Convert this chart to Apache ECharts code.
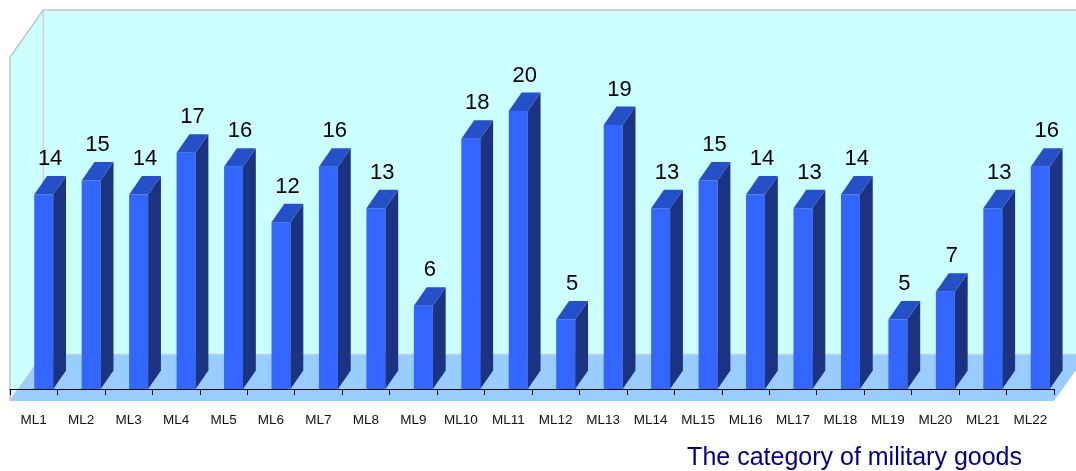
<!DOCTYPE html>
<html>
<head>
<meta charset="utf-8">
<script src="https://cdn.jsdelivr.net/npm/echarts@6/dist/echarts.min.js"></script>
<style>html,body{margin:0;padding:0;background:#fff}#c{width:1076px;height:471px}</style>
</head>
<body>
<div id="c"></div>
<script>
const categories = ['ML1','ML2','ML3','ML4','ML5','ML6','ML7','ML8','ML9','ML10','ML11','ML12','ML13','ML14','ML15','ML16','ML17','ML18','ML19','ML20','ML21','ML22'];
const values = [14,15,14,17,16,12,16,13,6,18,20,5,19,13,15,14,13,14,5,7,13,16];
const axisTitle = 'The category of military goods';

const FONT = '"Liberation Sans", Arial, sans-serif';

function renderWalls(params, api) {
  const cs = params.coordSys;
  const cw = api.size([1, 0])[0];
  const Dx = cw * 0.70, Dy = cw * 0.99;
  const x = cs.x, y = cs.y, w = cs.width, h = cs.height;
  const yb = y + h;
  const line = '#c4c4c4';
  return {
    type: 'group',
    children: [
      { type: 'polygon', shape: { points: [[x + Dx, y], [x + w + Dx + 40, y], [x + w + Dx + 40, yb - Dy], [x + Dx, yb - Dy]] }, style: { fill: '#CCFFFF' } },
      { type: 'polygon', shape: { points: [[x, y + Dy], [x + Dx, y], [x + Dx, yb - Dy], [x, yb]] }, style: { fill: '#CCFFFF' } },
      { type: 'polygon', shape: { points: [[x, yb], [x + w, yb], [x + w + Dx, yb - Dy], [x + Dx, yb - Dy]] }, style: { fill: '#99CCFF' } },
      { type: 'polyline', shape: { points: [[x, yb], [x, y + Dy], [x + Dx, y], [x + w + Dx + 40, y]] }, style: { stroke: line, lineWidth: 1.5, fill: null } },
      { type: 'line', shape: { x1: x + Dx, y1: y, x2: x + Dx, y2: yb - Dy }, style: { stroke: '#d8b8b8', lineWidth: 1 } },
      { type: 'line', shape: { x1: x, y1: yb, x2: x + Dx, y2: yb - Dy }, style: { stroke: line, lineWidth: 1.2 } },
      { type: 'line', shape: { x1: x + Dx, y1: yb - Dy, x2: x + w + Dx + 40, y2: yb - Dy }, style: { stroke: '#d0e0e8', lineWidth: 1 } }
    ]
  };
}

function renderBar(params, api) {
  const i = api.value(0), v = api.value(1);
  const top = api.coord([i, v]);
  const base = api.coord([i, 0]);
  const cw = api.size([1, 0])[0];
  const bw = cw * 0.40, dx = cw * 0.27, dy = cw * 0.39;
  const x0 = top[0] + 0.5, yt = top[1], yb = base[1];
  return {
    type: 'group',
    children: [
      { type: 'polygon', shape: { points: [[x0, yt], [x0 + bw, yt], [x0 + bw, yb], [x0, yb]] }, style: { fill: '#3366FF' } },
      { type: 'polygon', shape: { points: [[x0 + bw, yt], [x0 + bw + dx, yt - dy], [x0 + bw + dx, yb - dy], [x0 + bw, yb]] }, style: { fill: '#1B3381' } },
      { type: 'polygon', shape: { points: [[x0, yt], [x0 + bw, yt], [x0 + bw + dx, yt - dy], [x0 + dx, yt - dy]] }, style: { fill: '#2650C8' } },
      { type: 'text', style: { text: String(v), x: x0 + (bw + dx) / 2, y: yt - dy - 17, align: 'center', verticalAlign: 'middle', font: '22px ' + FONT, fill: '#000' } }
    ]
  };
}

const chart = echarts.init(document.getElementById('c'), null, { renderer: 'canvas' });
chart.setOption({
  animation: false,
  backgroundColor: '#fff',
  title: {
    text: axisTitle,
    right: 54,
    top: 446,
    padding: 0,
    textStyle: { fontFamily: FONT, fontSize: 25, fontWeight: 'normal', color: '#000080' }
  },
  grid: { left: 10, right: 22, top: 10, bottom: 70, containLabel: false },
  xAxis: {
    type: 'category',
    data: categories,
    boundaryGap: true,
    z: 10,
    axisLine: { show: true, lineStyle: { color: '#000', width: 1 } },
    axisTick: { show: true, length: 6, lineStyle: { color: '#000' } },
    axisLabel: { fontFamily: FONT, fontSize: 13.5, color: '#111', margin: 12, interval: 0 },
    splitLine: { show: false }
  },
  yAxis: {
    type: 'value',
    min: -0.86,
    max: 27.27,
    show: false,
    splitLine: { show: false }
  },
  series: [
    { type: 'custom', z: 1, clip: false, renderItem: renderWalls, data: [[0, 0]], silent: true },
    { type: 'custom', z: 3, clip: false, renderItem: renderBar, data: values.map((v, i) => [i, v]) }
  ]
});
</script>
</body>
</html>
